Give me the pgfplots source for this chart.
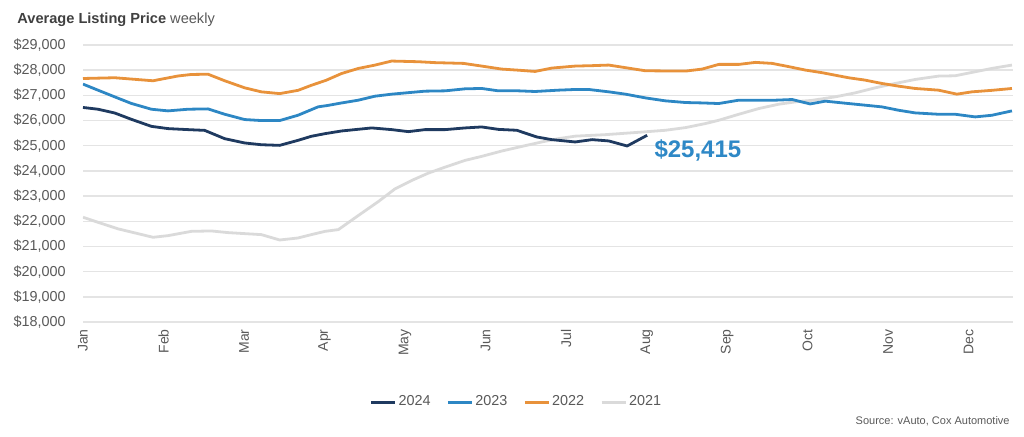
\documentclass[border=0pt]{standalone}
\usepackage{fontspec}
\setmainfont{Liberation Sans}
\usepackage{pgfplots}
\pgfplotsset{compat=1.18}
\definecolor{cNavy}{HTML}{1F3A60}
\definecolor{cBlue}{HTML}{2D87C4}
\definecolor{cOrange}{HTML}{E8923B}
\definecolor{cGray}{HTML}{DADADA}
\definecolor{cText}{HTML}{595959}
\definecolor{cTitle}{HTML}{404040}
\definecolor{cGrid}{HTML}{E4E4E4}
\definecolor{cLabel}{HTML}{2E88C6}
\begin{document}
\begin{tikzpicture}
\useasboundingbox (-41.5pt,-57pt) rectangle (470.5pt,161pt);
\begin{axis}[
  scale only axis, width=465pt, height=138.5pt,
  xmin=0, xmax=11.55, ymin=18000, ymax=29000,
  scaled y ticks=false,
  axis line style={draw=none},
  tick style={draw=none},
  ymajorgrids, major grid style={cGrid, line width=0.7pt},
  xtick={0,...,11},
  xticklabels={Jan,Feb,Mar,Apr,May,Jun,Jul,Aug,Sep,Oct,Nov,Dec},
  ytick={18000,19000,...,29000},
  yticklabels={{\$18,000},{\$19,000},{\$20,000},{\$21,000},{\$22,000},{\$23,000},{\$24,000},{\$25,000},{\$26,000},{\$27,000},{\$28,000},{\$29,000}},
  yticklabel style={anchor=east, inner sep=0pt, xshift=-8.5pt, font=\fontsize{7.2}{8}\selectfont, text=cText},
  xticklabel style={yshift=-3.5pt, rotate=90, anchor=east, inner sep=0pt, font=\fontsize{7}{8}\selectfont, text=cText},
  legend columns=4,
  legend style={draw=none, fill=none, at={(0.466,-0.29)}, anchor=center,
    font=\fontsize{7.2}{8}\selectfont, text=cText,
    /tikz/every even column/.append style={column sep=7pt},
    nodes={inner sep=1pt}},
  legend image code/.code={\draw[#1] (0pt,0pt) -- (12pt,0pt);},
  every axis plot/.append style={line join=round},
]
\addlegendimage{cNavy, line width=1.4pt}\addlegendentry{2024}
\addlegendimage{cBlue, line width=1.4pt}\addlegendentry{2023}
\addlegendimage{cOrange, line width=1.4pt}\addlegendentry{2022}
\addlegendimage{cGray, line width=1.4pt}\addlegendentry{2021}
% 2021
\addplot[cGray, line width=1.4pt, forget plot] coordinates {
(0,22160)(0.186,21960)(0.435,21700)(0.870,21364)(1.056,21430)(1.346,21600)(1.594,21616)(1.801,21550)(2.215,21470)(2.443,21257)(2.671,21337)(2.836,21470)(3.006,21600)(3.172,21670)(3.420,22230)(3.669,22785)(3.876,23290)(4.083,23622)(4.290,23914)(4.497,24150)(4.745,24418)(4.952,24578)(5.201,24790)(5.491,25003)(5.698,25150)(5.905,25282)(6.112,25380)(6.488,25440)(6.903,25534)(7.234,25614)(7.482,25720)(7.730,25880)(7.896,26012)(8.145,26250)(8.393,26477)(8.642,26650)(8.890,26760)(9.050,26800)(9.342,26942)(9.590,27100)(9.839,27300)(10.087,27473)(10.335,27632)(10.625,27765)(10.832,27778)(11.081,27938)(11.288,28070)(11.537,28203)
};
% 2022
\addplot[cOrange, line width=1.4pt, forget plot] coordinates {
(0,27670)(0.394,27700)(0.870,27580)(1.180,27770)(1.346,27830)(1.553,27840)(1.760,27580)(2.008,27300)(2.215,27140)(2.443,27070)(2.671,27200)(2.836,27400)(3.020,27600)(3.213,27870)(3.420,28070)(3.627,28203)(3.834,28363)(4.166,28336)(4.373,28300)(4.725,28270)(4.952,28163)(5.201,28044)(5.408,28000)(5.615,27950)(5.822,28084)(6.112,28163)(6.323,28180)(6.530,28203)(6.737,28100)(6.985,27977)(7.234,27970)(7.482,27964)(7.689,28044)(7.896,28230)(8.145,28230)(8.352,28310)(8.559,28270)(8.766,28140)(8.973,28004)(9.180,27900)(9.507,27700)(9.714,27606)(9.922,27473)(10.128,27367)(10.335,27274)(10.625,27207)(10.853,27048)(11.040,27140)(11.288,27200)(11.537,27274)
};
% 2023
\addplot[cBlue, line width=1.4pt, forget plot] coordinates {
(0,27447)(0.186,27207)(0.394,26940)(0.600,26680)(0.849,26450)(1.056,26384)(1.304,26450)(1.553,26463)(1.760,26250)(2.008,26040)(2.215,26000)(2.443,26000)(2.671,26212)(2.919,26543)(3.040,26600)(3.213,26700)(3.420,26810)(3.627,26968)(3.834,27048)(4.248,27167)(4.497,27180)(4.745,27260)(4.952,27274)(5.159,27180)(5.408,27180)(5.615,27154)(5.905,27207)(6.112,27234)(6.282,27234)(6.530,27140)(6.737,27048)(6.985,26900)(7.234,26782)(7.482,26716)(7.689,26700)(7.896,26676)(8.145,26809)(8.393,26809)(8.600,26809)(8.807,26835)(9.030,26660)(9.220,26770)(9.507,26676)(9.714,26610)(9.922,26543)(10.128,26410)(10.335,26304)(10.625,26250)(10.832,26250)(11.081,26145)(11.288,26210)(11.537,26384)
};
% 2024
\addplot[cNavy, line width=1.4pt, forget plot] coordinates {
(0,26520)(0.186,26450)(0.394,26300)(0.600,26050)(0.849,25770)(1.056,25680)(1.304,25640)(1.511,25610)(1.760,25280)(2.008,25110)(2.215,25040)(2.443,25015)(2.671,25215)(2.836,25375)(3.006,25480)(3.213,25587)(3.586,25707)(3.834,25640)(4.041,25560)(4.248,25640)(4.497,25640)(4.745,25707)(4.952,25746)(5.159,25650)(5.387,25614)(5.636,25348)(5.822,25242)(6.112,25150)(6.323,25242)(6.530,25190)(6.758,24990)(7.006,25415)
};
\node[anchor=base west, inner sep=0pt, xshift=3.5pt, yshift=-11pt, text=cLabel, font=\fontsize{12}{14}\selectfont\bfseries] at (axis cs:7.006,25415) {\$25,415};
\end{axis}
\node[anchor=base west, inner sep=0pt, font=\fontsize{7.3}{9}\selectfont] at (-33pt,149.3pt) {\textcolor{cTitle}{\bfseries Average Listing Price} \textcolor{cText}{weekly}};
\node[anchor=base east, inner sep=0pt, font=\fontsize{5.5}{7}\selectfont, text=cText] at (463.5pt,-51pt) {Source: vAuto, Cox Automotive};
\end{tikzpicture}
\end{document}
